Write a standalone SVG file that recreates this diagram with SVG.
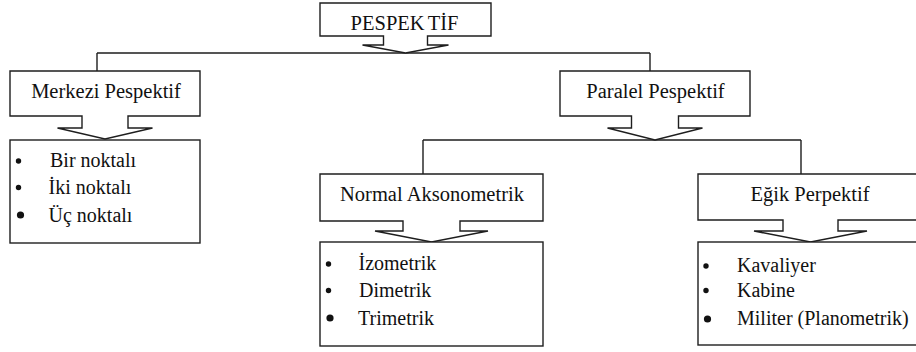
<svg xmlns="http://www.w3.org/2000/svg" width="916" height="352" viewBox="0 0 916 352">
<style>
.shape{fill:#ffffff;stroke:#1e1e1e;stroke-width:1.4;stroke-linejoin:miter}
.conn{fill:none;stroke:#1e1e1e;stroke-width:1.4}
text{font-family:'Liberation Serif','Times New Roman',serif}
.hd{font-size:20.5px;fill:#111;text-anchor:middle}
.it{font-size:20px;fill:#111}
.bul{fill:#111}
</style>
<rect width="916" height="352" fill="#ffffff"/>
<g id="connectors">
<path class="conn" d="M97,53 H650 M97,53 V71 M650,53 V71"/>
<path class="conn" d="M423,140 H801 M423,140 V174 M801,140 V174"/>
</g>
<g id="node-pespektif">
<path class="shape" d="M320,3 H491 V36 H427.5 V45 H448.5 L405.5,53 L362.5,45 H383.5 V36 H320 Z"/>
<text class="hd" x="404.5" y="30" font-size="22">PESPEK<tspan dx="3">TİF</tspan></text>
</g>
<g id="node-merkezi">
<path class="shape" d="M10,71 H200 V116 H128 V128 H152.5 L105,139 L57.5,128 H82 V116 H10 Z"/>
<text class="hd" x="106" y="98">Merkezi Pespektif</text>
</g>
<g id="node-paralel">
<path class="shape" d="M560,71 H750 V116 H678.5 V128 H702.5 L655,140 L607.5,128 H631.5 V116 H560 Z"/>
<text class="hd" x="655.5" y="97.5">Paralel Pespektif</text>
</g>
<g id="node-normal">
<path class="shape" d="M320,174 H543 V221 H460 V231 H488 L431.5,242 L375,231 H403 V221 H320 Z"/>
<text class="hd" x="432" y="201">Normal Aksonometrik</text>
</g>
<g id="node-egik">
<path class="shape" d="M698,174 H930 V220 H838 V231 H867 L810.5,242 L754,231 H783 V220 H698 Z"/>
<text class="hd" x="810" y="201">Eğik Perpektif</text>
</g>
<g id="list-merkezi">
<rect class="shape" x="10" y="140" width="190" height="103"/>
<circle class="bul" cx="18.5" cy="161" r="2.7"/>
<circle class="bul" cx="18.5" cy="187.5" r="2.7"/>
<circle class="bul" cx="20.5" cy="215" r="3.6"/>
<text class="it" x="50" y="167">Bir noktalı</text>
<text class="it" x="48.5" y="194">İki noktalı</text>
<text class="it" x="48.5" y="221.5">Üç noktalı</text>
</g>
<g id="list-normal">
<rect class="shape" x="320" y="242" width="223" height="104"/>
<circle class="bul" cx="328.5" cy="264" r="2.7"/>
<circle class="bul" cx="328.5" cy="290.5" r="2.7"/>
<circle class="bul" cx="330" cy="318" r="3.6"/>
<text class="it" x="358.5" y="270">İzometrik</text>
<text class="it" x="359" y="297">Dimetrik</text>
<text class="it" x="358" y="324.5">Trimetrik</text>
</g>
<g id="list-egik">
<rect class="shape" x="698" y="242" width="232" height="103"/>
<circle class="bul" cx="706" cy="266" r="2.7"/>
<circle class="bul" cx="706" cy="290.5" r="2.7"/>
<circle class="bul" cx="707.5" cy="319" r="3.6"/>
<text class="it" x="737" y="271.5">Kavaliyer</text>
<text class="it" x="737" y="297">Kabine</text>
<text class="it" x="737" y="325">Militer (Planometrik)</text>
</g>
</svg>
